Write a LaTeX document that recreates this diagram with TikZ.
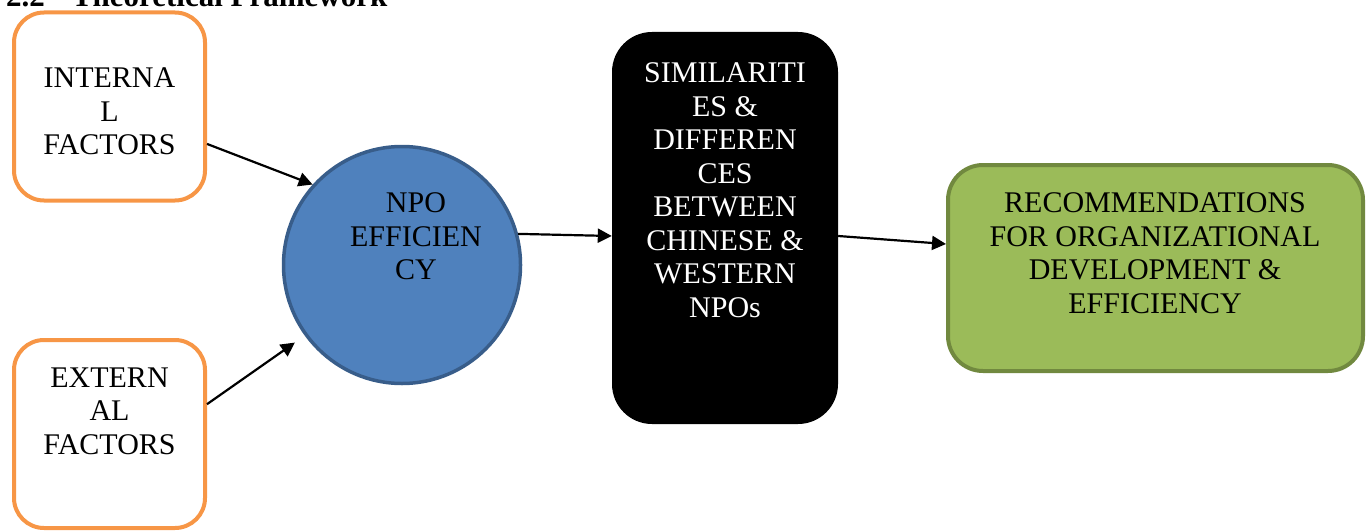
\documentclass[tikz,border=0pt]{standalone}
\usepackage{fontspec}
\setmainfont{Liberation Serif}
\usetikzlibrary{arrows.meta}

\definecolor{factorOrange}{RGB}{247,150,70}
\definecolor{npoBlue}{RGB}{79,129,189}
\definecolor{npoBlueDark}{RGB}{56,93,138}
\definecolor{recGreen}{RGB}{155,187,89}
\definecolor{recGreenDark}{RGB}{113,137,63}

\tikzset{
  factor/.style={draw=factorOrange, line width=4pt, rounded corners=30pt, fill=white,
    minimum width=191pt, minimum height=188pt, inner sep=0pt},
  boxtext/.style={font=\fontsize{30}{33.5}\selectfont, align=center, inner sep=0pt, anchor=north},
  link/.style={-{Triangle[length=14pt,width=14pt]}, line width=2.2pt},
}

\begin{document}
\begin{tikzpicture}[x=1pt, y=-1pt]
    \useasboundingbox (0,0) rectangle (1367,532);

    % Titre (coupe en haut)
    \node[anchor=base west, inner sep=0pt, font=\fontsize{31}{34}\selectfont\bfseries] (heading) at (6,7)
        {2.2\hspace{27pt}Theoretical Framework};

    % Facteurs
    \node[factor] (internal) at (109.5,106.5) {};
    \node[boxtext] (internal-txt) at (109.5,67.5) {INTERNA\\L\\FACTORS};

    \node[factor] (external) at (109.5,434) {};
    \node[boxtext] (external-txt) at (109.5,367.5) {EXTERN\\AL\\FACTORS};

    % Efficacite
    \node[circle, draw=npoBlueDark, fill=npoBlue, line width=3.5pt, minimum size=237pt, inner sep=0pt] (npo) at (402,265) {};
    \node[boxtext] (npo-txt) at (416,192.5) {NPO\\EFFICIEN\\CY};

    % Comparaison
    \node[fill=black, rounded corners=40pt, minimum width=226pt, minimum height=392pt, inner sep=0pt] (compare) at (725,228) {};
    \node[boxtext, text=white] (compare-txt) at (725,62.5)
        {SIMILARITI\\ES \&\\DIFFEREN\\CES\\BETWEEN\\CHINESE \&\\WESTERN\\NPOs};

    % Recommandations
    \node[draw=recGreenDark, fill=recGreen, line width=4pt, rounded corners=35pt, minimum width=415pt, minimum height=206pt, inner sep=0pt] (rec) at (1155.5,268) {};
    \node[boxtext] (rec-txt) at (1155,192.5)
        {RECOMMENDATIONS\\FOR ORGANIZATIONAL\\DEVELOPMENT \&\\EFFICIENCY};

    % Fleches
    \draw[link] (internal.-21.5) -- (npo.138);
    \draw[link, shorten >=12pt] (external.17) -- (npo.216);
    \draw[link] (npo.15) -- ([yshift=-8pt]compare.west);
    \draw[link] ([yshift=-8pt]compare.east) -- ([yshift=24pt]rec.west);
\end{tikzpicture}
\end{document}
